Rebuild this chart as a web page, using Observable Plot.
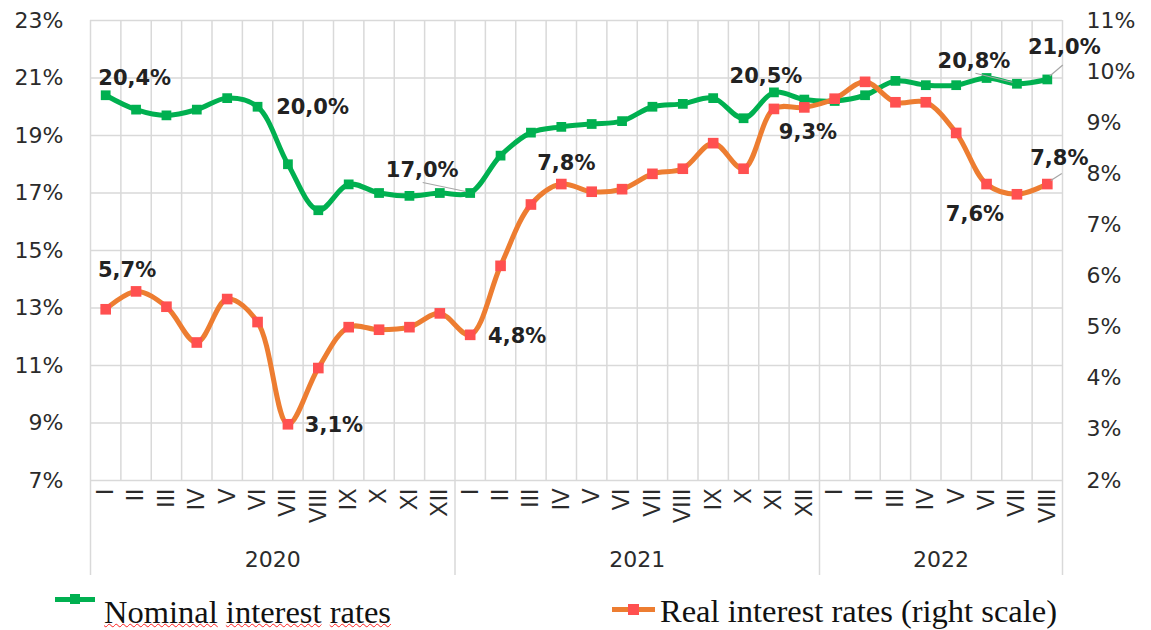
<!DOCTYPE html>
<html>
<head>
<meta charset="utf-8">
<script src="https://cdn.jsdelivr.net/npm/d3@7"></script>
<script src="https://cdn.jsdelivr.net/npm/@observablehq/plot@0.6"></script>
<style>
  body { margin: 0; background: #fff; }
  #wrap { position: relative; width: 1151px; height: 630px; overflow: hidden; background: #fff; }
  #chart svg { display: block; }
  .leg { position: absolute; font-family: "Liberation Serif", "Times New Roman", serif; font-size: 32.5px; line-height: 1; color: #111; white-space: nowrap; }
  .sq { text-decoration-line: underline; text-decoration-style: wavy; text-decoration-color: #ff2020; text-decoration-thickness: 1.2px; text-underline-offset: 0px; }
  .mk { position: absolute; }
</style>
</head>
<body>
<div id="wrap">
  <div id="chart"></div>
  <div class="mk" style="left:55px; top:597px; width:40px; height:5px; background:#00b050;"></div>
  <div class="mk" style="left:70px; top:594px; width:10px; height:10px; background:#00b050;"></div>
  <div class="leg" style="left:104px; top:596px;"><span class="sq">Nominal</span> <span class="sq">interest</span> <span class="sq">rates</span></div>
  <div class="mk" style="left:612px; top:607px; width:43px; height:5px; background:#ed7d31;"></div>
  <div class="mk" style="left:628px; top:604px; width:11px; height:11px; background:#ff5050;"></div>
  <div class="leg" style="left:660px; top:595px;">Real interest rates (right scale)</div>
</div>
<script>
// ---- data ----
const monthLabels = ["I","II","III","IV","V","VI","VII","VIII","IX","X","XI","XII",
                     "I","II","III","IV","V","VI","VII","VIII","IX","X","XI","XII",
                     "I","II","III","IV","V","VI","VII","VIII"];
const years = ["2020", "2021", "2022"];
// Nominal interest rates (left scale, %)
const nominal = [20.4, 19.9, 19.7, 19.9, 20.3, 20.0, 18.0, 16.4, 17.3, 17.0, 16.9, 17.0,
                 17.0, 18.3, 19.1, 19.3, 19.4, 19.5, 20.0, 20.1, 20.3, 19.6, 20.5, 20.25,
                 20.2, 20.4, 20.9, 20.75, 20.75, 21.0, 20.8, 20.95];
// Real interest rates (right scale, %)
const real = [5.35, 5.7, 5.4, 4.7, 5.55, 5.1, 3.1, 4.2, 5.0, 4.95, 5.0, 5.27,
              4.85, 6.2, 7.4, 7.8, 7.65, 7.7, 8.0, 8.1, 8.6, 8.1, 9.27, 9.3,
              9.47, 9.8, 9.4, 9.4, 8.8, 7.8, 7.6, 7.8];
const leftTicks = [7, 9, 11, 13, 15, 17, 19, 21, 23];
const rightTicks = [2, 3, 4, 5, 6, 7, 8, 9, 10, 11];
// data labels: series, month index, text
const labels = [
  {series: "nominal", i: 0,  text: "20,4%"},
  {series: "nominal", i: 5,  text: "20,0%"},
  {series: "nominal", i: 12, text: "17,0%"},
  {series: "nominal", i: 22, text: "20,5%"},
  {series: "nominal", i: 30, text: "20,8%"},
  {series: "nominal", i: 31, text: "21,0%"},
  {series: "real",    i: 1,  text: "5,7%"},
  {series: "real",    i: 6,  text: "3,1%"},
  {series: "real",    i: 12, text: "4,8%"},
  {series: "real",    i: 15, text: "7,8%"},
  {series: "real",    i: 22, text: "9,3%"},
  {series: "real",    i: 30, text: "7,6%"},
  {series: "real",    i: 31, text: "7,8%"}
];
// ---- styling (pixel offsets of labels from their points) ----
const labelOffsets = [[29,-17],[55,1],[-48,-23],[-8,-16],[-43,-22],[17,-32],
                      [-9,-21],[46,1],[47,1],[5,-21],[34,23],[-42,20],[12,-26]];
// leader lines: [label index, start dx, start dy, end dx, end dy]
const leaders = [[2,-47,-10,-4,-1],[4,-41,-10,-4,-1],[5,16,-14,3,-3],[12,15,-10,4,-3]];

// ---- dual-scale mapping: right scale drawn onto the left scale ----
const L0 = 7, L1 = 23, R0 = 2, R1 = 11;
const toLeft = v => L0 + (v - R0) * (L1 - L0) / (R1 - R0);
const fromLeft = v => R0 + (v - L0) * (R1 - R0) / (L1 - L0);

const idx = d3.range(nominal.length);
const realLeft = real.map(toLeft);
const labelY = l => l.series === "nominal" ? nominal[l.i] : toLeft(real[l.i]);

const green = "#00b050", orange = "#ed7d31", red = "#ff5050", grid = "#d9d9d9";
const axisColor = "#2b2b2b";

const chart = Plot.plot({
  width: 1151,
  height: 585,
  marginLeft: 90,
  marginRight: 89,
  marginTop: 20,
  marginBottom: 105,
  x: {domain: [-0.5, nominal.length - 0.5]},
  y: {domain: [L0, L1]},
  style: {fontFamily: "DejaVu Sans, sans-serif", background: "#fff", overflow: "visible"},
  marks: [
    Plot.gridY(leftTicks, {stroke: grid, strokeOpacity: 1, strokeWidth: 1.5}),
    Plot.gridX(d3.range(nominal.length + 1).map(i => i - 0.5), {stroke: grid, strokeOpacity: 1, strokeWidth: 1.5}),
    // year separators below the plot
    Plot.axisX([-0.5, 11.5, 23.5, nominal.length - 0.5], {tickSize: 95, tickFormat: () => "", stroke: grid, strokeWidth: 1.5}),
    // left axis
    Plot.axisY(leftTicks, {anchor: "left", tickSize: 0, tickPadding: 27, tickFormat: d => d + "%",
      fontSize: 22, fill: axisColor, label: null}),
    // right axis
    Plot.axisY(rightTicks.map(toLeft), {anchor: "right", tickSize: 0, tickPadding: 24,
      tickFormat: d => Math.round(fromLeft(d)) + "%", fontSize: 22, fill: axisColor, label: null}),
    // month labels
    Plot.axisX(idx, {tickSize: 0, tickPadding: 8, tickRotate: -90, tickFormat: i => monthLabels[i],
      fontSize: 23, fontFamily: "Liberation Sans, Arial, sans-serif", fill: axisColor, label: null}),
    // year labels
    Plot.axisX([5.5, 17.5, 27.5], {tickSize: 0, tickPadding: 71, tickFormat: d => years[Math.floor(d / 12)],
      fontSize: 22, fill: axisColor, label: null}),
    // nominal series
    Plot.line(nominal, {x: (d, i) => i, y: d => d, curve: "catmull-rom", stroke: green, strokeWidth: 5}),
    Plot.dot(nominal, {x: (d, i) => i, y: d => d, symbol: "square", r: 5.5, fill: green}),
    // real series
    Plot.line(realLeft, {x: (d, i) => i, y: d => d, curve: "catmull-rom", stroke: orange, strokeWidth: 5}),
    Plot.dot(realLeft, {x: (d, i) => i, y: d => d, symbol: "square", r: 6, fill: red}),
    // leader lines
    (index, scales) => {
      const g = d3.create("svg:g").attr("stroke", "#a6a6a6").attr("stroke-width", 1.2);
      for (const [k, sx, sy, ex, ey] of leaders) {
        const l = labels[k];
        const px = scales.x(l.i), py = scales.y(labelY(l));
        g.append("line").attr("x1", px + sx).attr("y1", py + sy).attr("x2", px + ex).attr("y2", py + ey);
      }
      return g.node();
    },
    // data labels
    ...labels.map((l, k) => Plot.text([l], {
      x: d => d.i, y: labelY, text: d => d.text,
      dx: labelOffsets[k][0], dy: labelOffsets[k][1],
      fontSize: 21, fontWeight: "bold", fill: "#222"
    }))
  ]
});
document.getElementById("chart").appendChild(chart);
</script>
</body>
</html>
